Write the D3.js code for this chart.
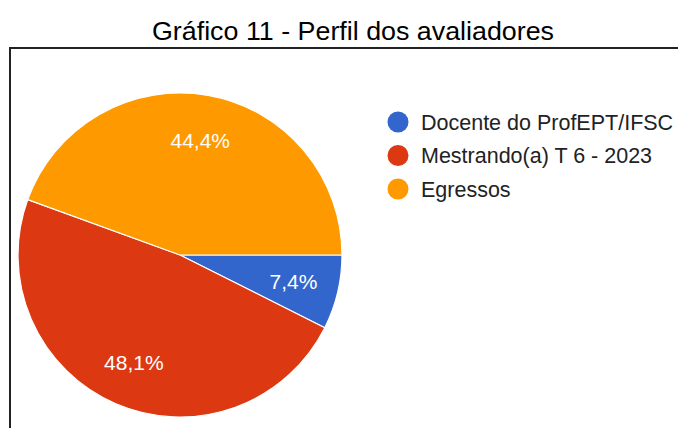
<!DOCTYPE html>
<html>
<head>
<meta charset="utf-8">
<script src="https://cdn.jsdelivr.net/npm/d3@7"></script>
<style>
  html, body { margin: 0; padding: 0; background: #fff; }
  svg { display: block; font-family: Arial, "Liberation Sans", sans-serif; }
</style>
</head>
<body>
<svg id="chart" width="678" height="428"></svg>
<script>
// dados do gráfico
var categories = ["Docente do ProfEPT/IFSC", "Mestrando(a) T 6 - 2023", "Egressos"];
var counts = [2, 13, 12];
var colors = ["#3366cc", "#dc3912", "#ff9900"];
var title = "Gráfico 11 - Perfil dos avaliadores";

var svg = d3.select("#chart");
var W = 678, H = 428;

// titulo
svg.append("text")
    .attr("x", 353)
    .attr("y", 40)
    .attr("text-anchor", "middle")
    .style("font-size", "26px")
    .style("fill", "#000")
    .attr("textLength", 402)
    .attr("lengthAdjust", "spacingAndGlyphs")
    .text(title);

// moldura
svg.append("path")
    .attr("d", "M10," + (H + 2) + "V48H" + (W + 2))
    .style("fill", "none")
    .style("stroke", "#222")
    .style("stroke-width", 2);

var cx = 180, cy = 255, r = 162;
var total = d3.sum(counts);

var pie = d3.pie()
    .sort(null)
    .startAngle(Math.PI / 2)
    .endAngle(Math.PI / 2 + 2 * Math.PI);

var arcs = pie(counts);
var arc = d3.arc().innerRadius(0).outerRadius(r);
var labelArc = d3.arc().innerRadius(r * 0.72).outerRadius(r * 0.72);

var g = svg.append("g").attr("transform", "translate(" + cx + "," + cy + ")");

g.selectAll("path.slice")
    .data(arcs)
    .enter().append("path")
    .attr("class", "slice")
    .attr("d", arc)
    .style("fill", function (d, i) { return colors[i]; })
    .style("stroke", "#fff")
    .style("stroke-width", 1.2);

var fmt = function (v) {
    return (v / total * 100).toFixed(1).replace(".", ",") + "%";
};

g.selectAll("text.pct")
    .data(arcs)
    .enter().append("text")
    .attr("class", "pct")
    .attr("transform", function (d) { return "translate(" + labelArc.centroid(d) + ")"; })
    .attr("text-anchor", "middle")
    .attr("dy", "0.36em")
    .style("font-size", "21px")
    .style("fill", "#fff")
    .text(function (d) { return fmt(d.value); });

// legenda
var legend = svg.append("g");
var rows = legend.selectAll("g")
    .data(categories)
    .enter().append("g")
    .attr("transform", function (d, i) { return "translate(398," + (122 + i * 33.5) + ")"; });

rows.append("circle")
    .attr("r", 10.5)
    .style("fill", function (d, i) { return colors[i]; });

rows.append("text")
    .attr("x", 23)
    .attr("dy", "0.36em")
    .style("font-size", "21.5px")
    .style("fill", "#222")
    .text(function (d) { return d; });
</script>
</body>
</html>
